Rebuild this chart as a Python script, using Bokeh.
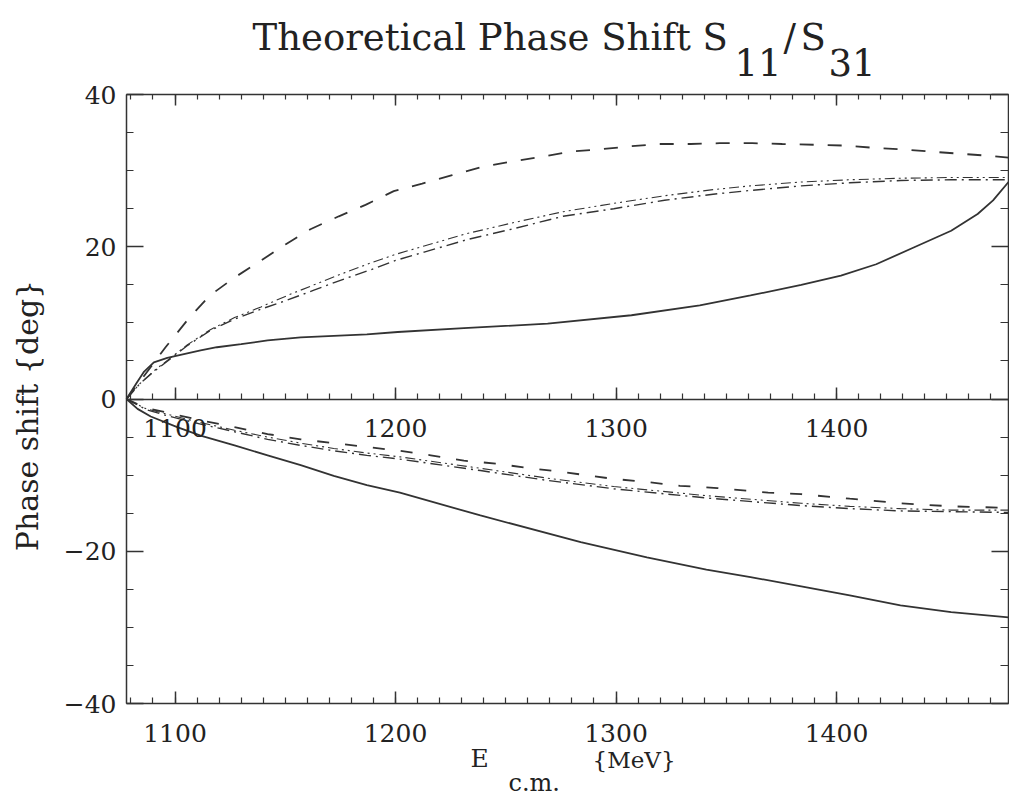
import math
from bokeh.plotting import figure
from bokeh.models import Range1d, LinearAxis, FixedTicker
from bokeh.core.properties import value
from bokeh.embed import file_html
from bokeh.resources import INLINE

# ---------------- data ----------------
x_major = [1100, 1200, 1300, 1400]
x_minor = list(range(1080, 1480, 10))
y_major = [-40, -20, 0, 20, 40]
y_minor = list(range(-40, 45, 5))

# upper panel (S11)
e_s11_dash = [1078, 1083, 1089, 1095.7, 1106.3, 1115.8, 1126.7, 1138.0, 1150.1, 1161.4,
              1174.3, 1186.4, 1199.2, 1212.1, 1225.7, 1239.3, 1252.9, 1265.8, 1279.4, 1293,
              1306.6, 1320.2, 1333.8, 1347, 1361.8, 1375.4, 1389.7, 1402.6, 1416.9, 1429.8,
              1442.6, 1457, 1471.3, 1478]
d_s11_dash = [0, 1.9, 4.2, 6.8, 10.6, 13.6, 15.9, 18.0, 20.3, 22.3,
              24.0, 25.5, 27.3, 28.3, 29.4, 30.5, 31.2, 31.8, 32.5, 32.8,
              33.2, 33.5, 33.5, 33.6, 33.6, 33.5, 33.4, 33.3, 33.0, 32.8,
              32.5, 32.2, 31.9, 31.7]

e_s11_dd = [1078, 1084, 1090, 1098, 1105.5, 1116, 1127, 1139, 1151, 1163, 1177, 1189, 1200,
            1213, 1232, 1254, 1276, 1299, 1322, 1344, 1361, 1384, 1406, 1429, 1452, 1478]
d_s11_dda = [0, 2.0, 3.6, 5.4, 7.1, 9.1, 10.7, 12.1, 13.6, 15.0, 16.6, 17.9, 19.0,
             20.1, 21.7, 23.2, 24.6, 25.7, 26.7, 27.5, 28.0, 28.5, 28.8, 29.0, 29.1, 29.1]
d_s11_ddb = [0, 2.0, 3.5, 5.3, 7.0, 9.0, 10.5, 11.8, 13.0, 14.3, 15.8, 17.0, 18.2,
             19.3, 20.9, 22.4, 24.0, 25.0, 26.1, 26.9, 27.4, 28.0, 28.4, 28.7, 28.8, 28.8]

e_s11_solid = [1078, 1082.8, 1086, 1090.4, 1096.5, 1102.5, 1111.6, 1119, 1130, 1142, 1157,
               1172, 1187, 1201, 1231, 1269, 1307, 1338, 1361, 1384, 1402, 1418, 1435,
               1452, 1464, 1471, 1478]
d_s11_solid = [0, 2.2, 3.6, 4.8, 5.4, 5.8, 6.4, 6.8, 7.2, 7.7, 8.1,
               8.3, 8.5, 8.8, 9.3, 9.9, 11.0, 12.3, 13.6, 15.0, 16.2, 17.7, 19.9,
               22.1, 24.3, 26.1, 28.5]

# lower panel (S31)
e_s31_solid = [1078, 1083, 1089, 1101, 1111.6, 1127, 1142, 1157, 1172, 1187, 1202, 1238.5,
               1284, 1314, 1341, 1361, 1384, 1406, 1429, 1452, 1478]
d_s31_solid = [0, -1.3, -2.3, -3.7, -4.8, -6.1, -7.4, -8.7, -10.1, -11.3, -12.3, -15.3,
               -18.8, -20.8, -22.4, -23.4, -24.6, -25.8, -27.1, -28.0, -28.7]

e_s31_dash = [1078, 1086, 1096.5, 1111.6, 1127, 1142, 1157, 1172, 1187, 1202, 1216, 1231,
              1246, 1261, 1276, 1299, 1314, 1329, 1346, 1369, 1384, 1406, 1429, 1452, 1478]
d_s31_dash = [0, -1.1, -1.8, -2.8, -3.7, -4.6, -5.3, -5.8, -6.3, -6.8, -7.4, -8.1,
              -8.5, -9.1, -9.6, -10.5, -10.9, -11.4, -11.7, -12.3, -12.5, -13.1, -13.7, -14.1, -14.3]

e_s31_dd = [1078, 1087, 1096.5, 1111.6, 1127, 1142, 1157, 1172, 1187, 1202, 1238.5, 1269,
            1299, 1341, 1384, 1406, 1429, 1452, 1478]
d_s31_dda = [0, -1.3, -2.0, -3.1, -4.1, -5.0, -5.8, -6.5, -7.1, -7.6, -9.1, -10.4,
             -11.5, -12.7, -13.7, -14.1, -14.4, -14.6, -14.6]
d_s31_ddb = [0, -1.4, -2.2, -3.3, -4.3, -5.3, -6.1, -6.8, -7.4, -7.9, -9.4, -10.7,
             -11.8, -13.0, -14.0, -14.4, -14.7, -14.8, -14.9]

# ---------------- layout ----------------
X0, X1 = 1078, 1478
Y0, Y1 = -40, 40
W, H = 1009, 797
FL, FR, FT, FB = 126, 1008, 94, 703   # box edges in pixels


def dx(px):
    return X0 + (px - FL) / (FR - FL) * (X1 - X0)


def dy(py):
    return Y1 - (py - FT) / (FB - FT) * (Y1 - Y0)


FONT = "DejaVu Serif"
INK = "#333333"
TXT = "#222222"

# the frame fills the whole canvas; the box is made of axes at fixed locations
p = figure(width=W, height=H, x_range=Range1d(dx(0), dx(W)), y_range=Range1d(dy(H), dy(0)),
           output_backend="svg", toolbar_location=None,
           min_border_left=0, min_border_right=0, min_border_top=0, min_border_bottom=0,
           x_axis_location=None, y_axis_location=None)
p.xgrid.visible = False
p.ygrid.visible = False
p.outline_line_color = None
p.background_fill_color = "white"
p.border_fill_color = "white"

xt = FixedTicker(ticks=x_major, minor_ticks=x_minor)
yt = FixedTicker(ticks=y_major, minor_ticks=y_minor)


def make_axis(ticker, loc, bounds, maj, mino, labels=None, standoff=18):
    ax = LinearAxis(ticker=ticker, fixed_location=loc, bounds=bounds)
    ax.axis_line_color = INK
    ax.axis_line_width = 1.5
    ax.major_tick_line_color = INK
    ax.minor_tick_line_color = INK
    ax.major_tick_line_width = 1.5
    ax.minor_tick_line_width = 1.2
    ax.major_tick_in = maj
    ax.major_tick_out = 0
    ax.minor_tick_in = mino
    ax.minor_tick_out = 0
    ax.major_label_text_font = FONT
    ax.major_label_text_color = TXT
    ax.major_label_text_font_size = "25px"
    ax.major_label_standoff = standoff
    ax.major_label_overrides = labels if labels is not None else {}
    return ax


blank_x = {t: "" for t in x_major}
blank_y = {t: "" for t in y_major}
y_lab = {-40: "\u221240", -20: "\u221220", 0: "0", 20: "20", 40: "40"}

p.add_layout(make_axis(xt, Y0, (X0, X1), 12, 6, None, 20), "below")     # bottom
p.add_layout(make_axis(xt, 0, (X0, X1), 12, 6, None, 20), "below")      # zero line
p.add_layout(make_axis(xt, Y1, (X0, X1), 11, 5, blank_x, 0), "above")   # top
p.add_layout(make_axis(yt, X0, (Y0, Y1), 17, 7, y_lab, 10), "left")     # left
p.add_layout(make_axis(yt, X1, (Y0, Y1), 17, 8, blank_y, 0), "right")   # right

# ---------------- curves ----------------
p.line(e_s11_dash, d_s11_dash, line_color=INK, line_width=1.8, line_dash="14 14")
p.line(e_s11_dd, d_s11_dda, line_color=INK, line_width=1.1, line_dash="10 4 2 4 2 4")
p.line(e_s11_dd, d_s11_ddb, line_color=INK, line_width=1.4, line_dash="12 5 2 5")
p.line(e_s11_solid, d_s11_solid, line_color=INK, line_width=1.8)

p.line(e_s31_dash, d_s31_dash, line_color=INK, line_width=1.8, line_dash="12 16")
p.line(e_s31_dd, d_s31_dda, line_color=INK, line_width=1.1, line_dash="10 4 2 4 2 4")
p.line(e_s31_dd, d_s31_ddb, line_color=INK, line_width=1.4, line_dash="12 5 2 5")
p.line(e_s31_solid, d_s31_solid, line_color=INK, line_width=1.8)


# ---------------- texts (positions are vertical centres) ----------------
def txt(text, px, py, size, angle=0.0, align="left"):
    p.text(x=[dx(px)], y=[dy(py)], text=[text], text_font=value(FONT),
           text_font_size=value(size), text_color=TXT,
           text_align=value(align), text_baseline=value("middle"),
           angle=angle)


txt("Theoretical Phase Shift S", 252, 37, "37px")
txt("11", 734, 62, "37px")
txt("/", 783, 37, "37px")
txt("S", 800, 37, "37px")
txt("31", 828, 62, "37px")

txt("E", 470, 758, "25px")
txt("c.m.", 508, 782, "24px")
txt("{MeV}", 592, 759, "23px")

txt("Phase shift {deg}", 27, 415, "30px", angle=math.pi / 2, align="center")

open("out.html", "w").write(file_html(p, INLINE))
